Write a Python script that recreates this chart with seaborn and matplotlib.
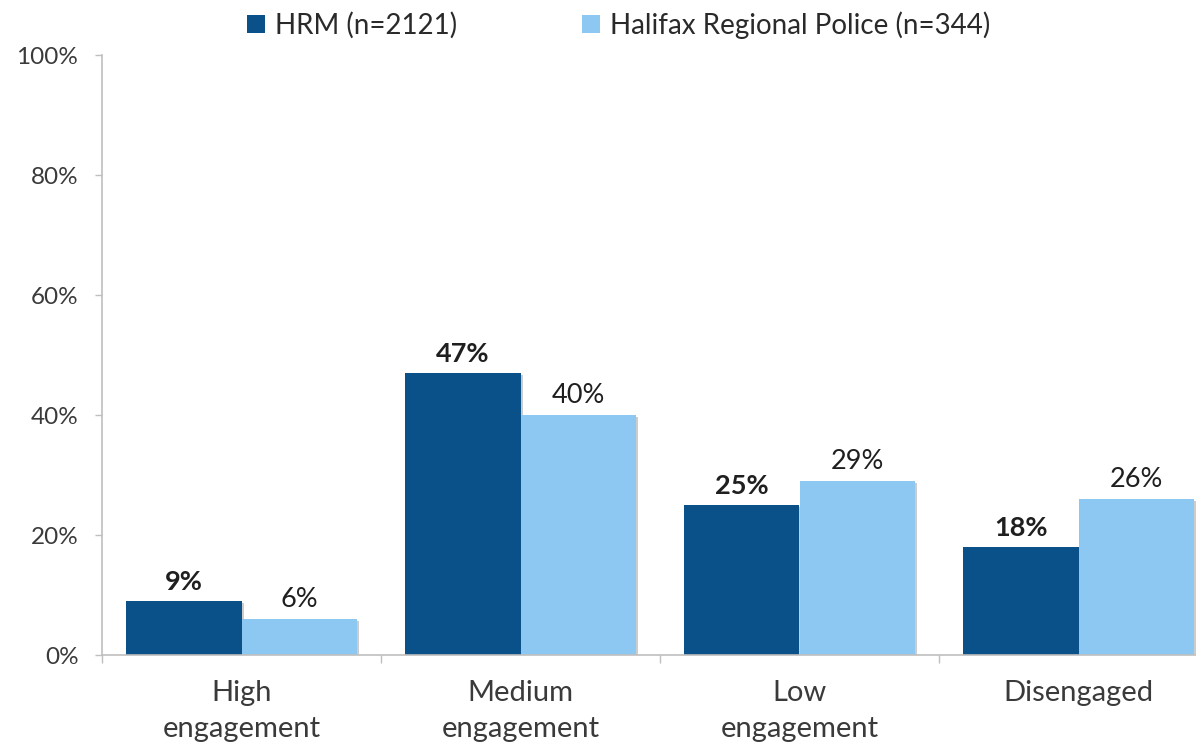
import matplotlib
matplotlib.use("Agg")
import matplotlib.pyplot as plt
import matplotlib.patheffects as pe
from matplotlib.patches import Patch
import seaborn as sns
import pandas as pd
import numpy as np

categories = ["High\nengagement", "Medium\nengagement", "Low\nengagement", "Disengaged"]
series_names = ["HRM (n=2121)", "Halifax Regional Police (n=344)"]
hrm_values = [9, 47, 25, 18]
hrp_values = [6, 40, 29, 26]
y_ticks = [0, 20, 40, 60, 80, 100]
y_tick_labels = ["0%", "20%", "40%", "60%", "80%", "100%"]

colors = ["#0B5189", "#8DC8F2"]

sns.set_theme(style="white")
plt.rcParams['font.family'] = ['Lato', 'DejaVu Sans']

df = pd.DataFrame({
    "category": categories * 2,
    "series": [series_names[0]] * 4 + [series_names[1]] * 4,
    "value": hrm_values + hrp_values,
})

W, H = 1196, 745
fig = plt.figure(figsize=(W / 100, H / 100), dpi=100)
left_px, right_px, top_px, bottom_px = 102, 1196, 55, 655
ax = fig.add_axes([left_px / W, (H - bottom_px) / H, (right_px - left_px) / W, (bottom_px - top_px) / H])

sns.barplot(data=df, x="category", y="value", hue="series", order=categories,
            hue_order=series_names, palette=colors, width=0.83, saturation=1,
            ax=ax, legend=False)

for p in ax.patches:
    p.set_linewidth(0)
    p.set_path_effects([pe.SimplePatchShadow(offset=(1.5, -1.5), shadow_rgbFace="#9a9a9a", alpha=0.5), pe.Normal()])

# data labels
for ci, cont in enumerate(ax.containers):
    for bar in cont:
        h = bar.get_height()
        ax.annotate(f"{h:.0f}%", (bar.get_x() + bar.get_width() / 2, h),
                    xytext=(0, 5), textcoords="offset points", ha="center", va="bottom",
                    fontsize=19.5, color="#1f1f1f",
                    fontweight="bold" if ci == 0 else "normal")

ax.set_yticks(y_ticks)
ax.set_yticklabels(y_tick_labels)
ax.set_xlabel("")
ax.set_ylabel("")

ax.set_xticks(range(len(categories)))
ax.set_xticklabels(categories, linespacing=1.5)
ax.set_xticks(np.arange(-0.5, len(categories), 1.0), minor=True)

unit_px = 279.0
ax.set_xlim(-0.5, -0.5 + (right_px - left_px) / unit_px)
ax.set_ylim(0, 100)

ax.tick_params(axis="x", which="major", length=0, pad=18, labelsize=21, labelcolor="#3a3a3a")
ax.tick_params(axis="x", which="minor", length=6, width=1, color="#bfbfbf", direction="out", bottom=True)
ax.tick_params(axis="y", length=5, width=1, color="#bfbfbf", direction="out", left=True, pad=12,
               labelsize=17.5, labelcolor="#3a3a3a")

for s in ["top", "right"]:
    ax.spines[s].set_visible(False)
for s in ["left", "bottom"]:
    ax.spines[s].set_color("#bfbfbf")
    ax.spines[s].set_linewidth(1.2)
ax.grid(False)

handles = [Patch(facecolor=c, edgecolor="none") for c in colors]
fig.legend(handles, series_names, loc="center", bbox_to_anchor=(619 / W, 1 - 25 / H),
           ncol=2, frameon=False, fontsize=20, handlelength=0.65, handleheight=0.65,
           handletextpad=0.36, columnspacing=4.5, labelcolor="#2a2a2a",
           borderpad=0, borderaxespad=0)

fig.savefig("out.png", dpi=100)
